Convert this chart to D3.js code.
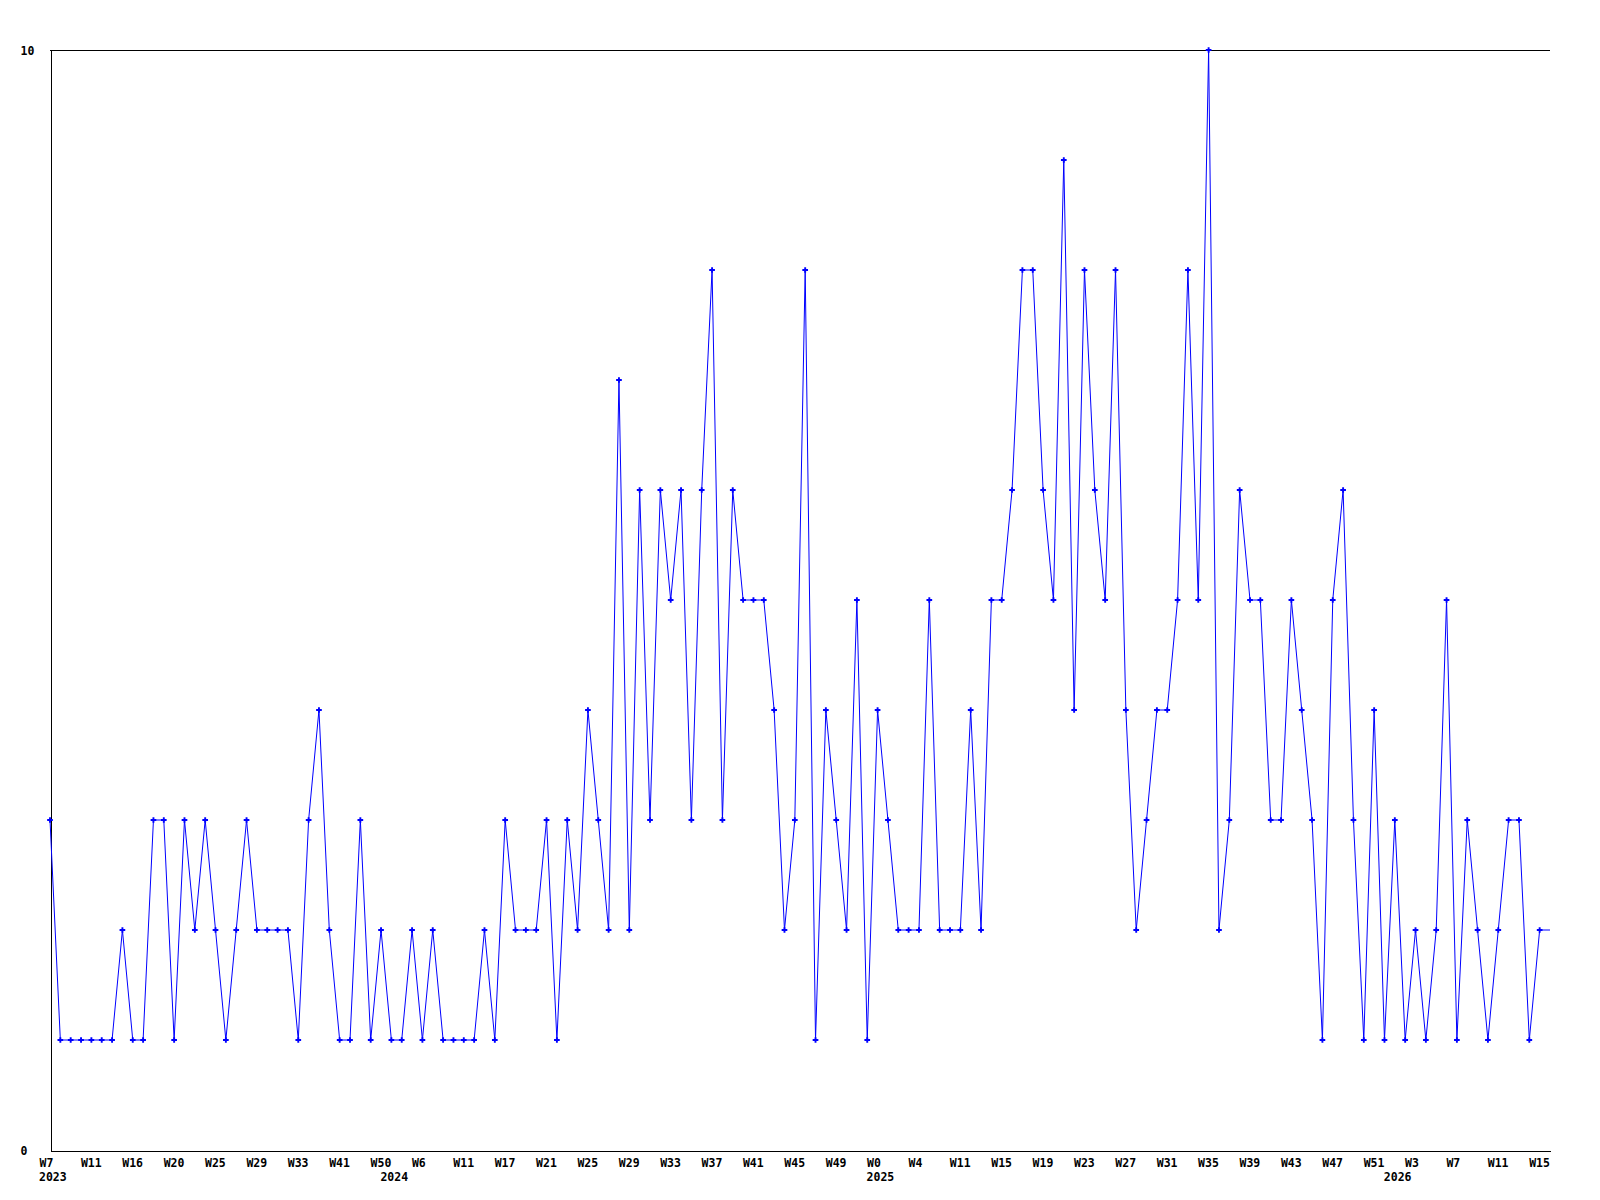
<!DOCTYPE html>
<html>
<head>
<meta charset="utf-8">
<script src="https://cdn.jsdelivr.net/npm/d3@7"></script>
<style>
  body { margin: 0; background: #fff; }
  text { font-family: "DejaVu Sans Mono", monospace; font-weight: bold; font-size: 11.5px; fill: #000; }
</style>
</head>
<body>
<div id="chart"></div>
<script>
// weekly counts, one per point
const values = [
  3, 1, 1, 1, 1, 1, 1, 2, 1, 1,
  3, 3, 1, 3, 2, 3, 2, 1, 2, 3,
  2, 2, 2, 2, 1, 3, 4, 2, 1, 1,
  3, 1, 2, 1, 1, 2, 1, 2, 1, 1,
  1, 1, 2, 1, 3, 2, 2, 2, 3, 1,
  3, 2, 4, 3, 2, 7, 2, 6, 3, 6,
  5, 6, 3, 6, 8, 3, 6, 5, 5, 5,
  4, 2, 3, 8, 1, 4, 3, 2, 5, 1,
  4, 3, 2, 2, 2, 5, 2, 2, 2, 4,
  2, 5, 5, 6, 8, 8, 6, 5, 9, 4,
  8, 6, 5, 8, 4, 2, 3, 4, 4, 5,
  8, 5, 10, 2, 3, 6, 5, 5, 3, 3,
  5, 4, 3, 1, 5, 6, 3, 1, 4, 1,
  3, 1, 2, 1, 2, 5, 1, 3, 2, 1,
  2, 3, 3, 1, 2, 2
];

// a label every 4th point
const tickLabels = [
  "W7", "W11", "W16", "W20", "W25", "W29", "W33", "W41", "W50",
  "W6", "W11", "W17", "W21", "W25", "W29", "W33", "W37", "W41", "W45", "W49",
  "W0", "W4", "W11", "W15", "W19", "W23", "W27", "W31", "W35", "W39", "W43", "W47", "W51",
  "W3", "W7", "W11", "W15"
];
const tickStep = 4;

const years = ["2023", "2024", "2025", "2026"];
const yearStart = [0, 33, 80, 130];   // point index where each year begins

const yTicks = [0, 10];

const width = 1600, height = 1200;
const margin = {left: 50, right: 1550, top: 50, bottom: 1150};

const svg = d3.select("#chart").append("svg")
    .attr("width", width)
    .attr("height", height);

const x = d3.scaleLinear().domain([0, values.length - 1]).range([margin.left, margin.right]);
const y = d3.scaleLinear().domain([0, 10]).range([margin.bottom, margin.top]);

// top border
svg.append("line")
    .attr("x1", margin.left).attr("x2", margin.right)
    .attr("y1", y(10) + 0.5).attr("y2", y(10) + 0.5)
    .attr("stroke", "#000")
    .attr("shape-rendering", "crispEdges");

const xAxis = d3.axisBottom(x)
    .tickValues(tickLabels.map((d, i) => i * tickStep))
    .tickFormat((d) => tickLabels[d / tickStep])
    .tickSize(0)
    .tickSizeOuter(0)
    .tickPadding(8);

const gx = svg.append("g")
    .attr("transform", "translate(0," + (margin.bottom + 0.5) + ")")
    .call(xAxis);
gx.attr("font-family", null).attr("font-size", null);
gx.select(".domain").attr("shape-rendering", "crispEdges");
gx.selectAll("text")
    .attr("text-anchor", "start")
    .attr("dx", -11);

svg.append("g").selectAll("text")
    .data(years)
  .enter().append("text")
    .attr("x", (d, i) => x(yearStart[i]) - 11)
    .attr("y", margin.bottom + 31)
    .text((d) => d);

const yAxis = d3.axisLeft(y)
    .tickValues(yTicks)
    .tickSize(0)
    .tickSizeOuter(0);

const gy = svg.append("g")
    .attr("transform", "translate(" + (margin.left + 0.5) + ",0)")
    .call(yAxis);
gy.attr("font-family", null).attr("font-size", null);
gy.select(".domain").attr("shape-rendering", "crispEdges");
gy.selectAll("text")
    .attr("text-anchor", "start")
    .attr("x", 20 - margin.left)
    .attr("dy", "0.35em");

const line = d3.line()
    .x((d, i) => x(i))
    .y((d) => y(d));

svg.append("path")
    .datum(values)
    .attr("d", line)
    .attr("fill", "none")
    .attr("stroke", "#0000ff")
    .attr("stroke-width", 1);

// markers (the last, still open week has none)
const marker = d3.symbol().type(d3.symbolCross).size(18);
svg.append("g").selectAll("path")
    .data(values.slice(0, values.length - 1))
  .enter().append("path")
    .attr("d", marker)
    .attr("transform", (d, i) => "translate(" + x(i) + "," + y(d) + ")")
    .attr("fill", "#0000ff");
</script>
</body>
</html>
